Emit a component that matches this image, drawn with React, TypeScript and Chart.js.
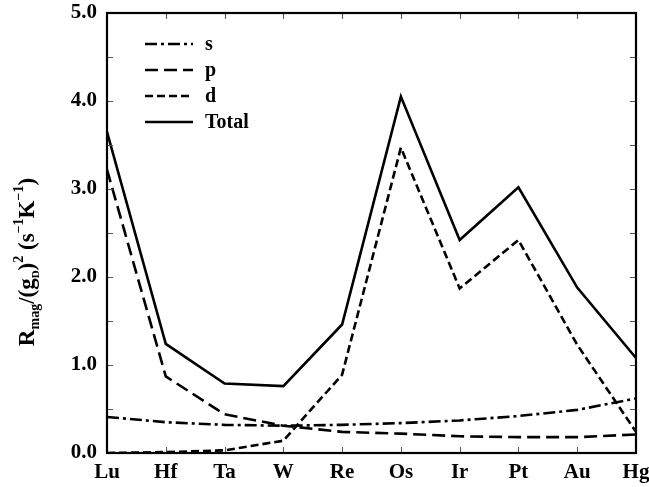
import React, { useEffect, useRef } from "react";
import { Chart, registerables } from "chart.js";

Chart.register(...registerables);

// 5d transition metals along the x axis
const elements = ["Lu", "Hf", "Ta", "W", "Re", "Os", "Ir", "Pt", "Au", "Hg"];

// Orbital contributions to the relaxation rate, in s^-1 K^-1
const sValues = [0.41, 0.35, 0.32, 0.31, 0.32, 0.34, 0.37, 0.42, 0.49, 0.62];
const pValues = [3.22, 0.87, 0.44, 0.31, 0.24, 0.22, 0.19, 0.18, 0.18, 0.21];
const dValues = [0.0, 0.01, 0.03, 0.14, 0.89, 3.47, 1.87, 2.42, 1.23, 0.24];
const totalValues = [3.65, 1.24, 0.79, 0.76, 1.46, 4.05, 2.42, 3.02, 1.88, 1.08];

const seriesNames = ["s", "p", "d", "Total"];
const yMin = 0;
const yMax = 5;
const yMinorStep = 0.5;

const FONT = "'Liberation Serif', 'Times New Roman', serif";

const dashes: Record<string, number[]> = {
  s: [12, 4, 3, 4],
  p: [13, 6],
  d: [8, 4],
  Total: [],
};

// Frame with inward ticks on all four sides, the legend and the y title
const decorations = {
  id: "decorations",
  afterDraw(chart: any) {
    const { ctx, chartArea } = chart;
    const { left, right, top, bottom } = chartArea;
    const xs = chart.scales.x;
    const ys = chart.scales.y;
    ctx.save();

    // inward ticks
    ctx.strokeStyle = "#555";
    ctx.lineWidth = 1;
    ctx.setLineDash([]);
    ctx.beginPath();
    for (let i = 0; i < elements.length; i++) {
      const x = Math.round(xs.getPixelForValue(i)) + 0.5;
      ctx.moveTo(x, bottom);
      ctx.lineTo(x, bottom - 6);
      ctx.moveTo(x, top);
      ctx.lineTo(x, top + 6);
    }
    for (let v = yMin; v <= yMax + 1e-9; v += yMinorStep) {
      const y = Math.round(ys.getPixelForValue(v)) + 0.5;
      ctx.moveTo(left, y);
      ctx.lineTo(left + 6, y);
      ctx.moveTo(right, y);
      ctx.lineTo(right - 6, y);
    }
    ctx.stroke();

    // frame
    ctx.strokeStyle = "#000";
    ctx.lineWidth = 2.2;
    ctx.strokeRect(left, top, right - left, bottom - top);

    // legend
    const lx0 = 145;
    const lx1 = 193;
    const rows = [44, 70, 96, 122];
    ctx.font = `bold 20px ${FONT}`;
    ctx.textBaseline = "middle";
    ctx.textAlign = "left";
    ctx.fillStyle = "#000";
    seriesNames.forEach((name, i) => {
      ctx.beginPath();
      ctx.strokeStyle = "#000";
      ctx.lineWidth = 2.6;
      ctx.setLineDash(dashes[name]);
      ctx.moveTo(lx0, rows[i]);
      ctx.lineTo(lx1, rows[i]);
      ctx.stroke();
      ctx.setLineDash([]);
      ctx.fillText(name, 205, rows[i] + 1);
    });

    // y axis title with sub- and superscripts
    const big = 23;
    const small = 14;
    const parts = [
      { t: "R", s: big, dy: 0 },
      { t: "mag", s: small, dy: 5 },
      { t: "/(g", s: big, dy: 0 },
      { t: "D", s: 11, dy: 5 },
      { t: ")", s: big, dy: 0 },
      { t: "2", s: small, dy: -11 },
      { t: " (s", s: big, dy: 0 },
      { t: "\u22121", s: small, dy: -11 },
      { t: "K", s: big, dy: 0 },
      { t: "\u22121", s: small, dy: -11 },
      { t: ")", s: big, dy: 0 },
    ];
    let total = 0;
    const widths = parts.map((p) => {
      ctx.font = `bold ${p.s}px ${FONT}`;
      const w = ctx.measureText(p.t).width;
      total += w;
      return w;
    });
    ctx.translate(34, 262);
    ctx.rotate(-Math.PI / 2);
    ctx.textBaseline = "alphabetic";
    let cx = -total / 2;
    parts.forEach((p, i) => {
      ctx.font = `bold ${p.s}px ${FONT}`;
      ctx.fillText(p.t, cx, p.dy);
      cx += widths[i];
    });

    ctx.restore();
  },
};

export default function App() {
  const canvasRef = useRef<HTMLCanvasElement | null>(null);

  useEffect(() => {
    const canvas = canvasRef.current;
    if (!canvas) return;
    const mk = (label: string, data: number[]) => ({
      label,
      data,
      borderColor: "#000",
      backgroundColor: "#000",
      borderWidth: 2.6,
      borderDash: dashes[label],
      pointRadius: 0,
      tension: 0,
      fill: false,
    });
    const noOverflow = (s: any) => {
      s.paddingTop = 0;
      s.paddingBottom = 0;
      s.paddingLeft = 0;
      s.paddingRight = 0;
    };
    const chart = new Chart(canvas, {
      type: "line",
      data: {
        labels: elements,
        datasets: [
          mk("s", sValues),
          mk("p", pValues),
          mk("d", dValues),
          mk("Total", totalValues),
        ],
      },
      options: {
        responsive: false,
        animation: false,
        layout: { padding: { left: 0, right: 13, top: 13, bottom: 0 } },
        plugins: {
          legend: { display: false },
          tooltip: { enabled: false },
          title: { display: false },
        },
        scales: {
          x: {
            type: "category",
            offset: false,
            grid: { display: false, drawTicks: false },
            border: { display: false },
            ticks: {
              color: "#000",
              font: { family: FONT, weight: "bold", size: 21 },
              padding: 7,
              maxRotation: 0,
              autoSkip: false,
            },
            afterFit: (s: any) => {
              s.height = 34;
              noOverflow(s);
            },
          },
          y: {
            min: yMin,
            max: yMax,
            grid: { display: false, drawTicks: false },
            border: { display: false },
            ticks: {
              stepSize: 1,
              color: "#000",
              font: { family: FONT, weight: "bold", size: 21 },
              padding: 10,
              callback: (v: any) => Number(v).toFixed(1),
            },
            afterFit: (s: any) => {
              s.width = 107;
              noOverflow(s);
            },
          },
        },
      },
      plugins: [decorations],
    });
    return () => chart.destroy();
  }, []);

  return (
    <div style={{ position: "absolute", left: 0, top: 0, width: 649, height: 487, background: "#fff" }}>
      <canvas ref={canvasRef} width={649} height={487} />
    </div>
  );
}
